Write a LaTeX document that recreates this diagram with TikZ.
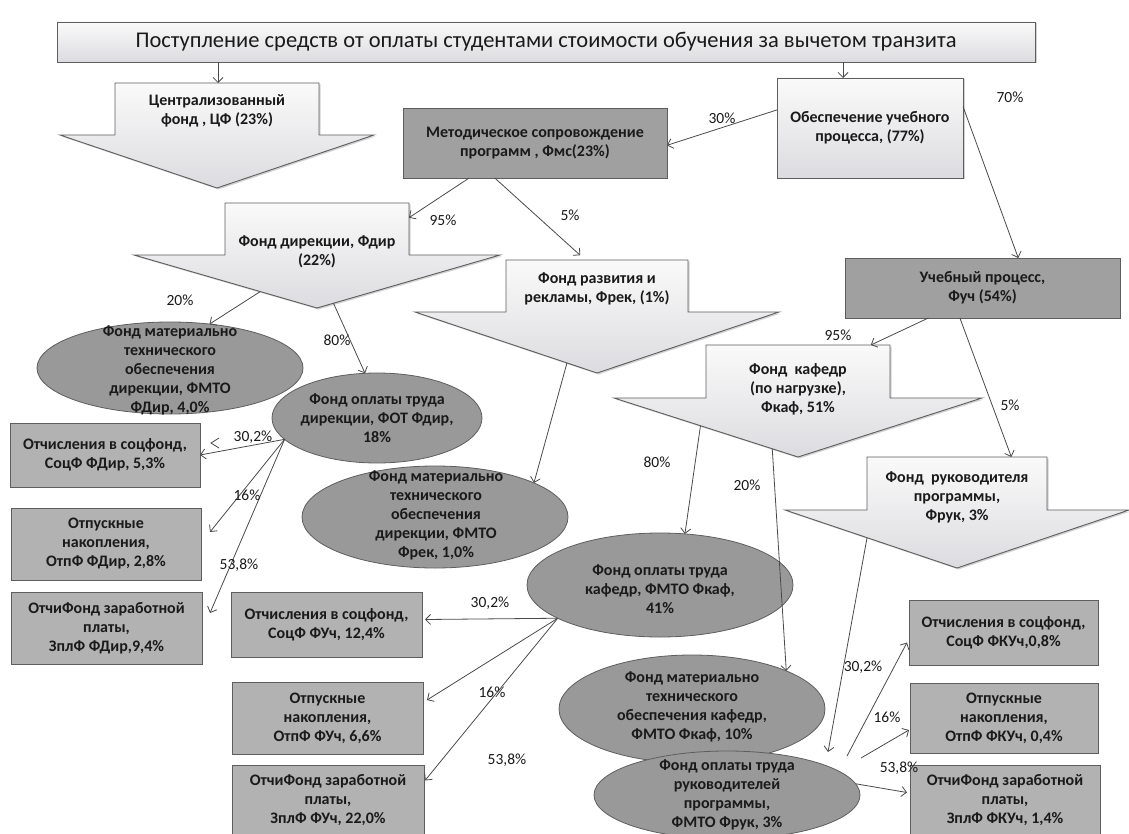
\documentclass[tikz,border=0pt]{standalone}
\usepackage{fontspec}
\setmainfont{Carlito}
\usetikzlibrary{arrows.meta,calc,shapes.geometric,shadows}
\definecolor{ellfill}{HTML}{999999}
\definecolor{boxfill}{HTML}{B2B2B2}
\definecolor{darkfill}{HTML}{A0A0A0}
\definecolor{lightfill}{HTML}{DCDCE0}
\definecolor{edge}{HTML}{5E5E5E}
\definecolor{txt}{HTML}{1A1A1A}
\definecolor{linec}{HTML}{4A4A4A}
\newcommand\blockarr[9]{%
  \path[barrow] ({#2-#4},#3) -- ({#2+#4},#3) -- ({#2+#4},#5) -- ({#2+#6},#5) -- (#2,#7) -- ({#2-#6},#5) -- ({#2-#4},#5) -- cycle;
  \coordinate (#1-hl) at ({#2-#6},#5);
  \coordinate (#1-hr) at ({#2+#6},#5);
  \coordinate (#1-tip) at (#2,#7);
  \node[inner sep=0pt, outer sep=0pt, minimum width={2*(#4)*1pt}, minimum height={(#5-#3)*1pt}] (#1-s) at (#2,{(#3+#5)/2}) {};
  \node[ntext] (#1) at (#2,#8) {#9};
}
\begin{document}
\begin{tikzpicture}[x=1pt,y=-1pt,
  ntext/.style={font=\bfseries\fontsize{16}{19}\selectfont, align=center, text=txt, inner sep=0pt},
  lbl/.style={font=\fontsize{15.5}{17}\selectfont, text=txt, inner sep=0pt},
  barrow/.style={draw=edge, line width=0.9pt, top color=white!96!gray, bottom color=lightfill, line join=miter,
     drop shadow={opacity=0.35, shadow xshift=1.5pt, shadow yshift=-1.5pt}},
  lightbox/.style={draw=edge, line width=0.8pt, top color=white!96!gray, bottom color=lightfill, inner sep=0pt, outer sep=0pt,
     drop shadow={opacity=0.35, shadow xshift=1.5pt, shadow yshift=-1.5pt}},
  darkbox/.style={draw=edge, line width=0.8pt, fill=darkfill, inner sep=0pt, outer sep=0pt},
  lowbox/.style={draw=edge, line width=0.8pt, fill=boxfill, inner sep=0pt, outer sep=0pt},
  ell/.style={ellipse, draw=edge, line width=0.8pt, fill=ellfill, inner sep=0pt, outer sep=0pt},
  conn/.style={draw=linec, line width=0.8pt, -{Straight Barb[length=5pt,width=10pt]}},
]
\fill[white] (0,0) rectangle (1129,834);
\useasboundingbox (0,0) rectangle (1129,834);

% title
\node[lightbox, minimum width=978pt, minimum height=40pt, font=\fontsize{22.5}{25}\selectfont, text=txt] (title) at (546,42)
  {Поступление средств от оплаты студентами стоимости обучения за вычетом транзита};

% block arrows
\blockarr{cf}{217}{83}{102}{135}{157}{188}{111}{Централизованный\\фонд , ЦФ (23\%)}
\blockarr{fdir}{317}{203}{92}{255}{183}{308}{252}{Фонд дирекции, Фдир\\(22\%)}
\blockarr{frek}{597}{260}{91}{312}{182}{373}{289}{Фонд развития и\\рекламы, Фрек, (1\%)}
\blockarr{fkaf}{798}{345}{92}{398}{184}{457}{389}{Фонд\ \ кафедр\\(по нагрузке),\\Фкаф, 51\%}
\blockarr{fruk}{957}{457}{90}{510}{172}{568}{497}{Фонд\ \ руководителя\\программы,\\Фрук, 3\%}

% rectangles
\node[lightbox, ntext, minimum width=186pt, minimum height=100pt] (obesp) at (870,128) {Обеспечение учебного\\процесса, (77\%)};
\node[darkbox, ntext, minimum width=264pt, minimum height=70pt] (metod) at (535,143) {Методическое сопровождение\\программ , Фмс(23\%)};
\node[darkbox, ntext, minimum width=275pt, minimum height=60pt] (ucheb) at (982.5,288) {Учебный процесс,\\Фуч (54\%)};

% ellipses
\node[ell, minimum width=266pt, minimum height=92pt] (fmtodir) at (170,368) {};
\node[ntext] (fmtodir-t) at (170,370) {Фонд материально\\технического\\обеспечения\\дирекции, ФМТО\\ФДир, 4,0\%};
\node[ell, minimum width=210pt, minimum height=90pt] (fotdir) at (377,418) {};
\node[ntext] (fotdir-t) at (377,418) {Фонд оплаты труда\\дирекции, ФОТ Фдир,\\18\%};
\node[ell, minimum width=266pt, minimum height=102pt] (fmtofrek) at (435,517) {};
\node[ntext] (fmtofrek-t) at (436,515) {Фонд материально\\технического\\обеспечения\\дирекции, ФМТО\\Фрек, 1,0\%};
\node[ell, minimum width=266pt, minimum height=104pt] (fotkaf) at (660,585) {};
\node[ntext] (fotkaf-t) at (660,589) {Фонд оплаты труда\\кафедр, ФМТО Фкаф,\\41\%};
\node[ell, minimum width=266pt, minimum height=108pt] (fmtokaf) at (692,709) {};
\node[ntext] (fmtokaf-t) at (692,707) {Фонд материально\\технического\\обеспечения кафедр,\\ФМТО Фкаф, 10\%};
\node[ell, minimum width=266pt, minimum height=88pt] (fotruk) at (727,795) {};
\node[ntext] (fotruk-t) at (727,795) {Фонд оплаты труда\\руководителей\\программы,\\ФМТО Фрук, 3\%};

% lower boxes
\node[lowbox, ntext, minimum width=190pt, minimum height=64pt] (socdir) at (105,455) {Отчисления в соцфонд,\\СоцФ ФДир, 5,3\%};
\node[lowbox, ntext, minimum width=190pt, minimum height=72pt] (otpdir) at (106,544) {Отпускные\\накопления,\\ОтпФ ФДир, 2,8\%};
\node[lowbox, ntext, minimum width=191pt, minimum height=72pt] (zpldir) at (106.5,628) {ОтчиФонд заработной\\платы,\\ЗплФ ФДир,9,4\%};
\node[lowbox, ntext, minimum width=191pt, minimum height=65pt] (socuch) at (326.5,624.5) {Отчисления в соцфонд,\\СоцФ ФУч, 12,4\%};
\node[lowbox, ntext, minimum width=191pt, minimum height=72pt] (otpuch) at (327.5,718) {Отпускные\\накопления,\\ОтпФ ФУч, 6,6\%};
\node[lowbox, ntext, minimum width=192pt, minimum height=71pt] (zpluch) at (328,800.5) {ОтчиФонд заработной\\платы,\\ЗплФ ФУч, 22,0\%};
\node[lowbox, ntext, minimum width=189pt, minimum height=65pt] (socku) at (1003.5,632.5) {Отчисления в соцфонд,\\СоцФ ФКУч,0,8\%};
\node[lowbox, ntext, minimum width=188pt, minimum height=70pt] (otpku) at (1004,718) {Отпускные\\накопления,\\ОтпФ ФКУч, 0,4\%};
\node[lowbox, ntext, minimum width=190pt, minimum height=71pt] (zplku) at (1005,800.5) {ОтчиФонд заработной\\платы,\\ЗплФ ФКУч, 1,4\%};

% free connector ends
\coordinate (fotruk-in) at (828,752);
\coordinate (ruk-o1) at (847,756);
\coordinate (ruk-o2) at (861,758);

% connectors
\draw[conn] (title.south -| 218,0) -- (cf-s.north -| 218,0);
\draw[conn] (title.south -| 843,0) -- (obesp.north -| 843,0);
\draw[conn] (obesp.169) -- (metod.-1);
\draw[conn] (obesp.13) -- (ucheb.40);
\draw[conn] (metod.-152) -- (fdir-s.7);
\draw[conn, shorten >=7pt] (metod.-139) -- (frek-s.114);
\draw[conn] ($(fdir-hl)!0.69!(fdir-tip)$) -- (fmtodir.48);
\draw[conn] ($(fdir-tip)!0.09!(fdir-hr)$) -- (fotdir.105);
\draw[conn] ($(frek-hl)!0.835!(frek-tip)$) -- (fmtofrek.19);
\draw[conn] (ucheb.-151) -- (fkaf-s.20);
\draw[conn] (ucheb.-127) -- (fruk-s.26);
\draw[conn] ($(fkaf-hl)!0.47!(fkaf-tip)$) -- (fotkaf.64);
\draw[conn] ($(fkaf-hl)!0.86!(fkaf-tip)$) -- (fmtokaf.22);
\draw[conn] ($(fruk-hl)!0.477!(fruk-tip)$) -- (fotruk-in);

\draw[conn] (fotdir.193) -- (socdir.east);
\draw[conn] (fotdir.193) -- ($(otpdir.east)+(9,-12)$);
\draw[conn] (fotdir.193) -- ($(zpldir.east)+(8,-15)$);
\draw[linec, line width=0.8pt] (219,438) -- (211,443) -- (219,448);

\draw[conn] (fotkaf.198) -- ($(socuch.east)+(3,-5)$);
\draw[conn] (fotkaf.198) -- ($(otpuch.east)+(4,-18)$);
\draw[conn] (fotkaf.198) -- ($(zpluch.east)+(1,-20)$);

\draw[conn] (ruk-o1) -- ($(socku.west)+(-2,10)$);
\draw[conn] (ruk-o2) -- ($(otpku.west)+(-1,12)$);
\draw[conn] (fotruk.5) -- ($(zplku.west)+(-3,-8)$);

% labels
\node[lbl] (l1) at (722,118) {30\%};
\node[lbl] (l2) at (1010,97) {70\%};
\node[lbl] (l3) at (443,220) {95\%};
\node[lbl] (l4) at (570,215) {5\%};
\node[lbl] (l5) at (180,300) {20\%};
\node[lbl] (l6) at (337,340) {80\%};
\node[lbl] (l7) at (838,335) {95\%};
\node[lbl] (l8) at (1010,405) {5\%};
\node[lbl] (l9) at (657,462) {80\%};
\node[lbl] (l10) at (747,485) {20\%};
\node[lbl] (l11) at (253,437) {30,2\%};
\node[lbl] (l12) at (247,495) {16\%};
\node[lbl] (l13) at (239,565) {53,8\%};
\node[lbl] (l14) at (490,603) {30,2\%};
\node[lbl] (l15) at (492,692) {16\%};
\node[lbl] (l16) at (507,760) {53,8\%};
\node[lbl] (l17) at (863,667) {30,2\%};
\node[lbl] (l18) at (887,717) {16\%};
\node[lbl] (l19) at (899,768) {53,8\%};
\end{tikzpicture}
\end{document}
